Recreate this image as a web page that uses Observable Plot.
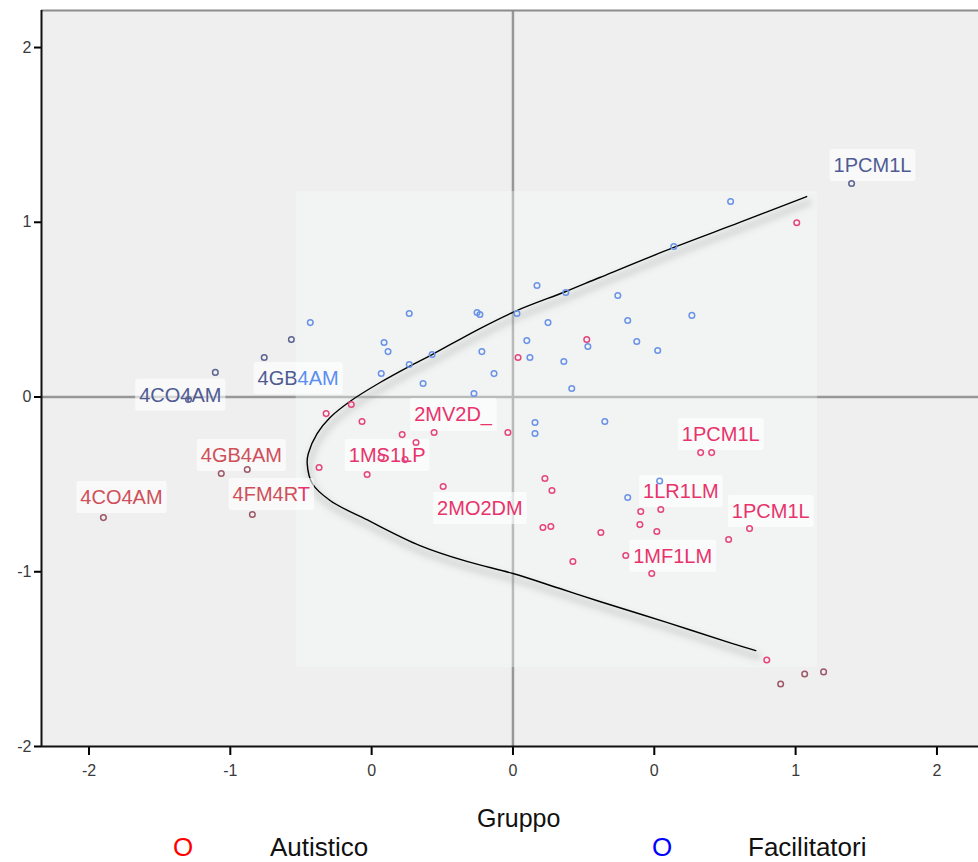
<!DOCTYPE html>
<html>
<head>
<meta charset="utf-8">
<script src="https://cdn.jsdelivr.net/npm/d3@7"></script>
<script src="https://cdn.jsdelivr.net/npm/@observablehq/plot@0.6"></script>
<style>
  body { margin: 0; background: #fff; }
  #wrap { position: relative; width: 978px; height: 862px; font-family: "Liberation Sans", Arial, sans-serif; }
  #wrap svg { display: block; }
  .t { position: absolute; line-height: 25px; white-space: nowrap; color: #111; }
  g[aria-label="x-axis tick"], g[aria-label="y-axis tick"] { stroke-width: 2px; }
  g[aria-label="x-axis tick label"], g[aria-label="y-axis tick label"] { fill: #3a3a3a; }
</style>
</head>
<body>
<div id="wrap">
  <div class="t" style="left:477px;top:806px;font-size:25px;">Gruppo</div>
  <div class="t" style="left:173px;top:835px;font-size:26px;color:#ff0000;">O</div>
  <div class="t" style="left:270px;top:835px;font-size:26px;">Autistico</div>
  <div class="t" style="left:652px;top:835px;font-size:26px;color:#0000ff;">O</div>
  <div class="t" style="left:748px;top:835px;font-size:26px;">Facilitatori</div>
</div>
<script>
// Gruppo "Autistico": coordinates on the two dimensions
const autX = [1.004, 0.261, 0.018, -0.661, -0.572, -0.534, -0.392, -0.343, -0.279, -0.018,
              -0.686, -0.516, -0.466, -0.382, -0.247, 0.113, 0.138, 0.106, 0.134, 0.311,
              0.212, 0.399, 0.491, 0.452, 0.523, 0.449, 0.509, 0.664, 0.703, 0.763,
              0.837, 0.898, 0.947, 1.032, 1.099, -1.032, -0.940, -0.922, -1.449];
const autY = [0.997, 0.329, 0.226, -0.095, -0.043, -0.140, -0.215, -0.260, -0.203, -0.203,
              -0.403, -0.443, -0.346, -0.358, -0.512, -0.466, -0.535, -0.747, -0.741, -0.775,
              -0.941, -0.907, -1.010, -0.655, -0.644, -0.730, -0.770, -0.318, -0.318, -0.815,
              -0.753, -1.505, -1.642, -1.585, -1.573, -0.438, -0.415, -0.672, -0.690];

// Gruppo "Facilitatori"
const facX = [1.198, 0.770, 0.569, 0.085, 0.187, 0.371, 0.014, 0.124, 0.406, 0.633,
              0.049, 0.060, 0.438, 0.512, 0.265, 0.180, 0.208, 0.078, 0.078, 0.325,
              0.519, 0.406, -0.717, -0.784, -0.880, -1.053, -1.148, -0.367, -0.127, -0.117,
              -0.456, -0.442, -0.286, -0.110, -0.466, -0.367, -0.318, -0.067, -0.138];
const facY = [1.222, 1.119, 0.861, 0.638, 0.598, 0.581, 0.478, 0.426, 0.438, 0.467,
              0.323, 0.226, 0.318, 0.266, 0.289, 0.203, 0.049, -0.146, -0.209, -0.140,
              -0.481, -0.575, 0.426, 0.329, 0.226, 0.141, -0.014, 0.478, 0.484, 0.472,
              0.312, 0.260, 0.243, 0.260, 0.135, 0.186, 0.077, 0.134, 0.020];

// Case labels (text centre on the two dimensions)
const labText  = ["1PCM1L", "4GB4AM", "4CO4AM", "4GB4AM", "4FM4RT", "4CO4AM", "1MS1LP",
                  "2MV2D_", "2MO2DM", "1PCM1L", "1LR1LM", "1PCM1L", "1MF1LM"];
const labGroup = ["Facilitatori", "Facilitatori", "Facilitatori", "Autistico", "Autistico",
                  "Autistico", "Autistico", "Autistico", "Autistico", "Autistico", "Autistico",
                  "Autistico", "Autistico"];
const labX = [1.272, -0.760, -1.177, -0.961, -0.855, -1.385, -0.445, -0.212, -0.117, 0.735, 0.594, 0.912, 0.565];
const labY = [1.325, 0.106, 0.009, -0.335, -0.558, -0.575, -0.335, -0.100, -0.638, -0.215, -0.541, -0.655, -0.912];

// Hand-drawn separating curve
const curveX = [1.039, 0.802, 0.569, 0.307, 0.187, 0.014, -0.117, -0.286, -0.367, -0.470,
                -0.572, -0.647, -0.693, -0.724, -0.728, -0.710, -0.647, -0.505, -0.329, -0.163,
                0.000, 0.166, 0.307, 0.544, 0.777, 0.859];
const curveY = [1.147, 0.999, 0.856, 0.684, 0.604, 0.495, 0.392, 0.243, 0.175, 0.083,
                -0.020, -0.117, -0.209, -0.323, -0.381, -0.495, -0.592, -0.712, -0.850, -0.941,
                -1.010, -1.096, -1.170, -1.290, -1.411, -1.451];

// Highlighted zone
const zoneX = [-0.767, 1.078];
const zoneY = [-1.548, 1.176];

// Axes
const xDomain = [-1.668, 1.647];
const yDomain = [-2, 2.212];
const xTicks = [-1.5, -1, -0.5, 0, 0.5, 1, 1.5];
const xTickLabels = ["-2", "-1", "0", "0", "0", "1", "2"];
const yTicks = [-2, -1, 0, 1, 2];
const yTickLabels = ["-2", "-1", "0", "1", "2"];

const W = 978, H = 790, mL = 41, mR = 0, mT = 10, mB = 44;

const points = [
  ...autX.map((x, i) => ({x, y: autY[i], g: "Autistico"})),
  ...facX.map((x, i) => ({x, y: facY[i], g: "Facilitatori"}))
];
const labels = labText.map((t, i) => ({t, x: labX[i], y: labY[i], g: labGroup[i]}));
const curve = curveX.map((x, i) => ({x, y: curveY[i]}));
const zone = [{x1: zoneX[0], x2: zoneX[1], y1: zoneY[0], y2: zoneY[1]}];

const dotOut = {Autistico: "#9b5868", Facilitatori: "#5c6490"};
const dotIn  = {Autistico: "#e5457a", Facilitatori: "#6a92e6"};
const labOut = {Autistico: "#cf4f5a", Facilitatori: "#4f5c94"};
const labIn  = {Autistico: "#e8336b", Facilitatori: "#5a8ef0"};

const chart = Plot.plot({
  width: W, height: H,
  marginLeft: mL, marginRight: mR, marginTop: mT, marginBottom: mB,
  style: {fontFamily: "'Liberation Sans', Arial, sans-serif", fontSize: "16px", color: "#000", background: "#fff"},
  color: {type: "identity"},
  x: {domain: xDomain, ticks: xTicks, tickFormat: d => xTickLabels[xTicks.indexOf(d)],
      tickSize: 9, tickPadding: 9, label: null},
  y: {domain: yDomain, ticks: yTicks, tickFormat: d => yTickLabels[yTicks.indexOf(d)],
      tickSize: 7, tickPadding: 3, label: null},
  marks: [
    Plot.frame({fill: "#efefef", stroke: "none"}),
    Plot.ruleX([0], {stroke: "#979797", strokeWidth: 2.5}),
    Plot.ruleY([0], {stroke: "#979797", strokeWidth: 2.5}),
    Plot.rect(zone, {x1: "x1", x2: "x2", y1: "y1", y2: "y2", fill: "#f9ffff", fillOpacity: 0.35}),
    Plot.ruleY([yDomain[1]], {stroke: "#8c8c8c", strokeWidth: 2}),
    Plot.ruleX([xDomain[0]], {stroke: "#111", strokeWidth: 2}),
    Plot.ruleY([yDomain[0]], {stroke: "#111", strokeWidth: 2}),
    // soft shadow under the curve (first line group), then the curve itself
    Plot.line(curve, {x: "x", y: "y", curve: "catmull-rom", stroke: "#6a6a6a", strokeWidth: 7,
                      strokeOpacity: 0.2, dx: 2, dy: 6}),
    Plot.line(curve, {x: "x", y: "y", curve: "catmull-rom", stroke: "#000", strokeWidth: 1.4}),
    // labels: muted copy outside the zone, bright copy inside it
    Plot.text(labels, {x: "x", y: "y", text: "t", fill: d => labOut[d.g], fontSize: 20}),
    Plot.text(labels, {x: "x", y: "y", text: "t", fill: d => labIn[d.g], fontSize: 20}),
    // points: same split
    Plot.dot(points, {x: "x", y: "y", r: 2.8, stroke: d => dotOut[d.g], strokeWidth: 1.5, fill: "none"}),
    Plot.dot(points, {x: "x", y: "y", r: 2.8, stroke: d => dotIn[d.g], strokeWidth: 1.5, fill: "none"})
  ]
});

const wrap = document.getElementById("wrap");
wrap.insertBefore(chart, wrap.firstChild);

const svg = d3.select(chart);
const sx = d3.scaleLinear(xDomain, [mL, W - mR]);
const sy = d3.scaleLinear(yDomain, [H - mB, mT]);
const zx1 = sx(zoneX[0]), zx2 = sx(zoneX[1]), zy1 = sy(zoneY[1]), zy2 = sy(zoneY[0]);

const defs = svg.insert("defs", ":first-child");
defs.append("clipPath").attr("id", "zone-in").append("rect")
  .attr("x", zx1).attr("y", zy1).attr("width", zx2 - zx1).attr("height", zy2 - zy1);
defs.append("clipPath").attr("id", "zone-out").append("path")
  .attr("clip-rule", "evenodd")
  .attr("d", `M-10,-10H${W + 10}V${H + 10}H-10Z M${zx1},${zy1}H${zx2}V${zy2}H${zx1}Z`);
defs.append("filter").attr("id", "soft")
  .attr("x", "-10%").attr("y", "-10%").attr("width", "120%").attr("height", "120%")
  .append("feGaussianBlur").attr("stdDeviation", 3);

const lineGroups = chart.querySelectorAll(':scope > g[aria-label="line"]');
const textGroups = chart.querySelectorAll(':scope > g[aria-label="text"]');
const dotGroups  = chart.querySelectorAll(':scope > g[aria-label="dot"]');

if (lineGroups[0]) lineGroups[0].setAttribute("filter", "url(#soft)");

if (textGroups.length >= 2) {
  // white boxes behind the case labels
  const box = chart.getBoundingClientRect();
  const boxes = document.createElementNS("http://www.w3.org/2000/svg", "g");
  textGroups[0].parentNode.insertBefore(boxes, textGroups[0]);
  textGroups[0].querySelectorAll("text").forEach(el => {
    const r = el.getBoundingClientRect();
    d3.select(boxes).append("rect")
      .attr("x", r.left - box.left - 4).attr("y", r.top - box.top - 5)
      .attr("width", r.width + 8).attr("height", r.height + 10)
      .attr("rx", 2).attr("fill", "#fff").attr("fill-opacity", 0.6);
  });
  textGroups[0].setAttribute("clip-path", "url(#zone-out)");
  textGroups[1].setAttribute("clip-path", "url(#zone-in)");
}
if (dotGroups.length >= 2) {
  dotGroups[0].setAttribute("clip-path", "url(#zone-out)");
  dotGroups[1].setAttribute("clip-path", "url(#zone-in)");
}
</script>
</body>
</html>
